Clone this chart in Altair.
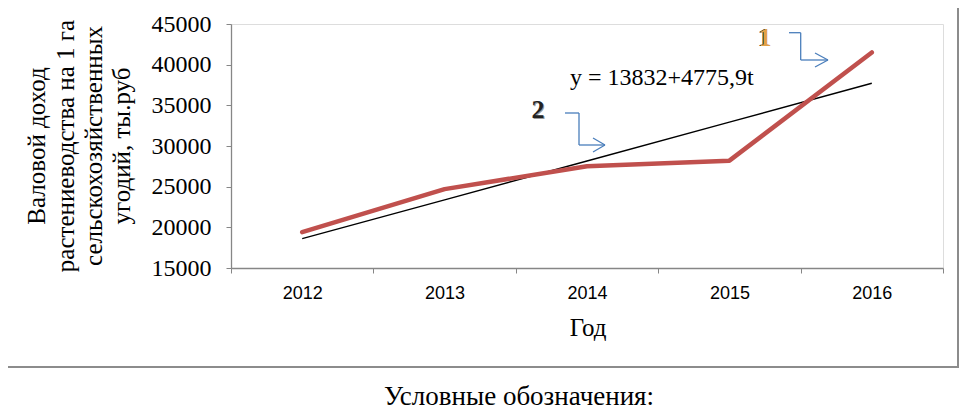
import altair as alt
import pandas as pd

# ---- data ----
years = ["2012", "2013", "2014", "2015", "2016"]
income = [19400, 24700, 27500, 28200, 41500]          # red series (1)
trend = [18608, 23384, 28160, 32936, 37712]           # trend line (2): y = 13832 + 4775.9 t
y_ticks = [15000, 20000, 25000, 30000, 35000, 40000, 45000]

title_lines = ["Валовой доход", "растениеводства на 1 га",
               "сельскохозяйственных", "угодий, ты.руб"]
x_title = "Год"
equation = "y = 13832+4775,9t"
legend_caption = "Условные обозначения:"

df = pd.DataFrame({"year": years, "income": income, "trend": trend})

# ---- layout constants (pixels) ----
W, H = 712, 244
PAD_L, PAD_T = 223, 16
TOTAL_W, TOTAL_H = 951, 405
SERIF = "Liberation Serif"
SANS = "Liberation Sans"
ARROW = "#4a7ebb"
AXIS = "#868686"

xenc = alt.X("year:O", bandPosition=0.5,
             scale=alt.Scale(type="band", paddingInner=0, paddingOuter=0),
             axis=alt.Axis(title=None, labelAngle=0, tickBand="extent",
                           labelFont=SANS, labelFontSize=18, labelColor="#000",
                           labelPadding=11, tickSize=5, domainColor=AXIS,
                           tickColor=AXIS, domainWidth=1.3, grid=False))
yscale = alt.Scale(domain=[15000, 45000], nice=False, zero=False)

trend_line = alt.Chart(df).mark_line(color="#000000", strokeWidth=1.4).encode(
    x=xenc,
    y=alt.Y("trend:Q", scale=yscale,
            axis=alt.Axis(title=None, values=y_ticks, format="d",
                          labelFont=SERIF, labelFontSize=24, labelColor="#000",
                          labelPadding=15, tickSize=5, domainColor=AXIS,
                          tickColor=AXIS, domainWidth=1.3, grid=False)),
)
main_line = alt.Chart(df).mark_line(color="#c0504d", strokeWidth=4.5,
                                    strokeCap="round", strokeJoin="round").encode(
    x=xenc, y=alt.Y("income:Q", scale=yscale),
)

one = pd.DataFrame({"a": [0]})


def txt(text, x, y, size, font=SERIF, align="center", baseline="alphabetic",
        angle=0, color="#000", weight="normal", dx=0, dy=0):
    return alt.Chart(one).mark_text(
        text=text, fontSize=size, font=font, align=align, baseline=baseline,
        angle=angle, color=color, fontWeight=weight, dx=dx, dy=dy,
    ).encode(x=alt.value(x), y=alt.value(y))


def seg(x1, y1, x2, y2, color=ARROW, width=1.3):
    # page coordinates -> plot coordinates
    return alt.Chart(one).mark_rule(color=color, strokeWidth=width).encode(
        x=alt.value(x1 - 231), x2=alt.value(x2 - 231),
        y=alt.value(y1 - 24), y2=alt.value(y2 - 24))


layers = []
# outer frame
layers.append(alt.Chart(one).mark_rect(fill=None, stroke="#8c8c8c", strokeWidth=2).encode(
    x=alt.value(-230), x2=alt.value(727), y=alt.value(-23), y2=alt.value(343)))

layers += [trend_line, main_line]

# rotated y-axis title lines
for i, (line, px) in enumerate(zip(title_lines, [45, 74, 102, 130])):
    layers.append(txt(line, px - 231, 122, 25, angle=270))

layers.append(txt(x_title, 588 - 231, 336 - 24, 25))
layers.append(txt(equation, 570 - 231, 85 - 24, 24, align="left"))
layers.append(txt(legend_caption, 519 - 231, 405 - 24, 27))

# labels 1 and 2
layers.append(txt("1", 764 - 231, 46 - 24, 26, weight="bold", color="#1a1a1a"))
layers.append(txt("1", 765 - 231, 46 - 24, 26, weight="bold", color="#e2a146"))
layers.append(txt("2", 538 - 231, 118 - 24, 26, weight="bold", color="#9a9a9a", dx=1, dy=1))
layers.append(txt("2", 538 - 231, 118 - 24, 26, weight="bold", color="#222222"))

# elbow arrows
for s in [
    (789, 32.7, 800.7, 32.7), (800.7, 32.7, 800.7, 60), (800.7, 60, 828, 60),
    (828, 60, 815, 53), (828, 60, 815, 67),
    (565, 113, 579, 113), (579, 113, 579, 145), (579, 145, 605, 145),
    (605, 145, 593, 138), (605, 145, 593, 152),
]:
    layers.append(seg(*s))

chart = alt.layer(*layers).properties(
    width=W, height=H,
    autosize=alt.AutoSizeParams(type="none"),
    padding={"left": PAD_L, "top": PAD_T, "right": TOTAL_W - PAD_L - W,
             "bottom": TOTAL_H - PAD_T - H},
).configure_view(stroke=None).configure(background="white")

chart.save("out.html", embed_options={"renderer": "svg", "actions": False})
